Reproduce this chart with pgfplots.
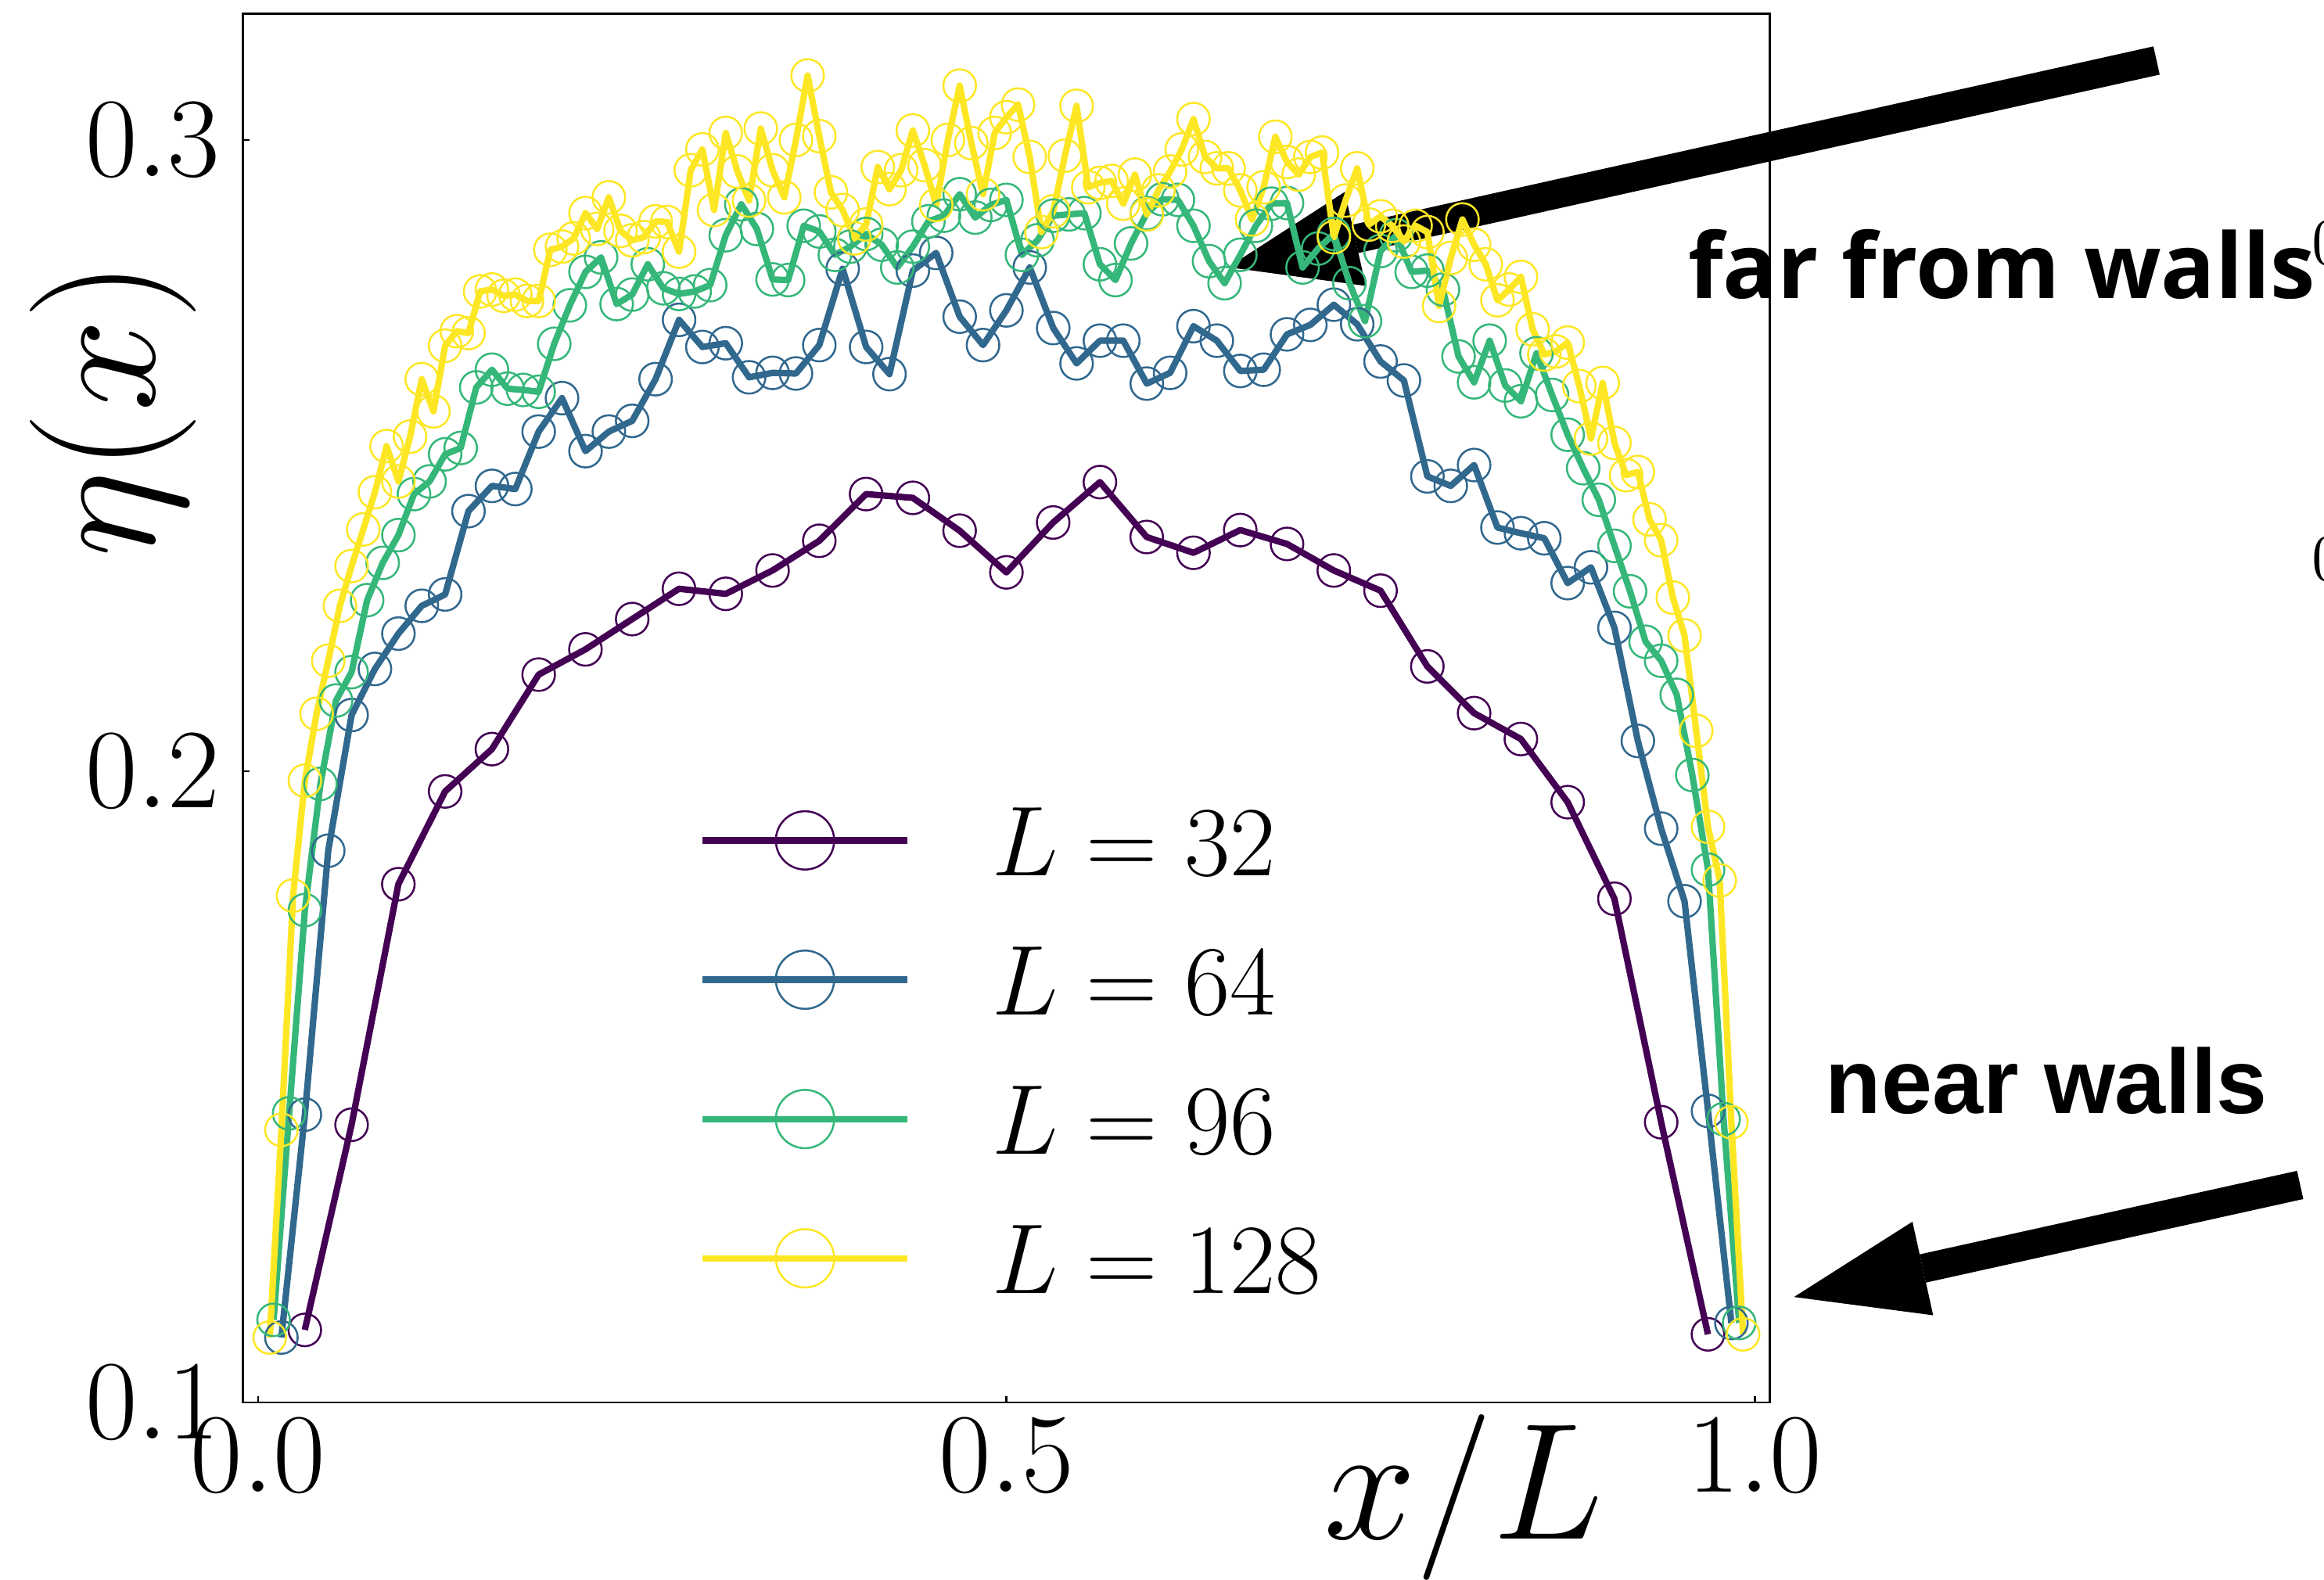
\RequirePackage{fix-cm}
\documentclass[border=0pt]{standalone}
\usepackage{fontspec}
\usepackage{pgfplots}
\usepackage{pgfplotstable}
\pgfplotsset{compat=1.18}
\usetikzlibrary{arrows.meta}
\newfontfamily\farfont{Open Sans}
\newfontfamily\nearfont{Liberation Sans}
\definecolor{cA}{HTML}{440154}
\definecolor{cB}{HTML}{31688E}
\definecolor{cC}{HTML}{35B779}
\definecolor{cD}{HTML}{FDE725}

\pgfplotstableread{
x y
0.03125 0.1115
0.0625 0.1440
0.09375 0.1821
0.125 0.1968
0.15625 0.2035
0.1875 0.2153
0.21875 0.2193
0.25 0.2241
0.28125 0.2289
0.3125 0.2281
0.34375 0.2318
0.375 0.2365
0.40625 0.2439
0.4375 0.2433
0.46875 0.2381
0.5 0.2315
0.53125 0.2394
0.5625 0.2458
0.59375 0.2371
0.625 0.2346
0.65625 0.2382
0.6875 0.2360
0.71875 0.2318
0.75 0.2286
0.78125 0.2166
0.8125 0.2092
0.84375 0.2051
0.875 0.1951
0.90625 0.1798
0.9375 0.1444
0.96875 0.1108
}\tabA

\pgfplotstableread{
x y
0.0156 0.1103
0.0313 0.1456
0.0469 0.1874
0.0625 0.2089
0.0781 0.2162
0.0938 0.2218
0.1094 0.2262
0.125 0.2280
0.1406 0.2412
0.1563 0.2452
0.1719 0.2447
0.1875 0.2538
0.2031 0.2591
0.2188 0.2507
0.2344 0.2538
0.25 0.2555
0.2656 0.2621
0.2813 0.2715
0.2969 0.2672
0.3125 0.2678
0.3281 0.2624
0.3438 0.2631
0.3594 0.2630
0.375 0.2675
0.3906 0.2796
0.4063 0.2672
0.4219 0.2629
0.4375 0.2793
0.4531 0.2821
0.4688 0.2720
0.4844 0.2675
0.5 0.2730
0.5156 0.2798
0.5313 0.2702
0.5469 0.2646
0.5625 0.2682
0.5781 0.2682
0.5938 0.2614
0.6094 0.2631
0.625 0.2705
0.6406 0.2682
0.6563 0.2634
0.6719 0.2636
0.6875 0.2692
0.7031 0.2707
0.7188 0.2739
0.7344 0.2708
0.75 0.2649
0.7656 0.2619
0.7813 0.2467
0.7969 0.2452
0.8125 0.2485
0.8281 0.2386
0.8438 0.2377
0.8594 0.2369
0.875 0.2298
0.8906 0.2323
0.9063 0.2227
0.9219 0.2048
0.9375 0.1909
0.9531 0.1794
0.9688 0.1462
0.9844 0.1126
}\tabB

\pgfplotstableread{
x y
0.0104 0.1131
0.0208 0.1458
0.0313 0.1780
0.0417 0.1980
0.0521 0.2112
0.0625 0.2157
0.0729 0.2271
0.0833 0.2330
0.0938 0.2374
0.1042 0.2439
0.1146 0.2459
0.125 0.2502
0.1354 0.2512
0.1458 0.2608
0.1563 0.2636
0.1667 0.2606
0.1771 0.2604
0.1875 0.2601
0.1979 0.2677
0.2083 0.2738
0.2188 0.2791
0.2292 0.2814
0.2396 0.2740
0.25 0.2755
0.2604 0.2803
0.2708 0.2765
0.2813 0.2756
0.2917 0.2760
0.3021 0.2770
0.3125 0.2849
0.3229 0.2898
0.3333 0.2859
0.3438 0.2779
0.3542 0.2778
0.3646 0.2864
0.375 0.2855
0.3854 0.2818
0.3958 0.2831
0.4063 0.2851
0.4167 0.2834
0.4271 0.2798
0.4375 0.2831
0.4479 0.2871
0.4583 0.2880
0.4688 0.2914
0.4792 0.2877
0.4896 0.2897
0.5 0.2905
0.5104 0.2818
0.5208 0.2841
0.5313 0.2880
0.5417 0.2882
0.5521 0.2884
0.5625 0.2803
0.5729 0.2778
0.5833 0.2836
0.5938 0.2884
0.6042 0.2906
0.6146 0.2905
0.625 0.2864
0.6354 0.2808
0.6458 0.2773
0.6563 0.2818
0.6667 0.2864
0.6771 0.2899
0.6875 0.2900
0.6979 0.2798
0.7083 0.2828
0.7188 0.2851
0.7292 0.2773
0.7396 0.2713
0.75 0.2824
0.7604 0.2849
0.7708 0.2791
0.7813 0.2793
0.7917 0.2763
0.8021 0.2657
0.8125 0.2616
0.8229 0.2682
0.8333 0.2611
0.8438 0.2586
0.8542 0.2662
0.8646 0.2596
0.875 0.2533
0.8854 0.2480
0.8958 0.2430
0.9063 0.2357
0.9167 0.2285
0.9271 0.2205
0.9375 0.2175
0.9479 0.2121
0.9583 0.1994
0.9688 0.1844
0.9792 0.1449
0.9896 0.1126
}\tabC

\pgfplotstableread{
x y
0.0078 0.1103
0.0156 0.1432
0.0234 0.1803
0.0313 0.1985
0.0391 0.2091
0.0469 0.2175
0.0547 0.2262
0.0625 0.2325
0.0703 0.2383
0.0781 0.2442
0.0859 0.2515
0.0938 0.2459
0.1016 0.2530
0.1094 0.2621
0.1172 0.2570
0.125 0.2674
0.1328 0.2697
0.1406 0.2694
0.1484 0.2760
0.1563 0.2763
0.1641 0.2753
0.1719 0.2755
0.1797 0.2745
0.1875 0.2745
0.1953 0.2826
0.2031 0.2831
0.2109 0.2844
0.2188 0.2884
0.2266 0.2859
0.2344 0.2909
0.2422 0.2856
0.25 0.2841
0.2578 0.2846
0.2656 0.2871
0.2734 0.2870
0.2813 0.2823
0.2891 0.2952
0.2969 0.2985
0.3047 0.2889
0.3125 0.3011
0.3203 0.2950
0.3281 0.2904
0.3359 0.3018
0.3438 0.2952
0.3516 0.2909
0.3594 0.3000
0.3672 0.3102
0.375 0.3006
0.3828 0.2917
0.3906 0.2889
0.3984 0.2844
0.4063 0.2866
0.4141 0.2957
0.4219 0.2922
0.4297 0.2952
0.4375 0.3015
0.4453 0.2960
0.4531 0.2897
0.4609 0.3000
0.4688 0.3086
0.4766 0.2995
0.4844 0.2914
0.4922 0.3011
0.5 0.3036
0.5078 0.3056
0.5156 0.2973
0.5234 0.2854
0.5313 0.2887
0.5391 0.2975
0.5469 0.3054
0.5547 0.2925
0.5625 0.2932
0.5703 0.2935
0.5781 0.2899
0.5859 0.2945
0.5938 0.2882
0.6016 0.2920
0.6094 0.2950
0.6172 0.2985
0.625 0.3033
0.6328 0.2973
0.6406 0.2955
0.6484 0.2955
0.6563 0.2920
0.6641 0.2874
0.6719 0.2925
0.6797 0.3005
0.6875 0.2965
0.6953 0.2945
0.7031 0.2973
0.7109 0.2980
0.7188 0.2846
0.7266 0.2904
0.7344 0.2955
0.7422 0.2866
0.75 0.2879
0.7578 0.2864
0.7656 0.2839
0.7734 0.2864
0.7813 0.2854
0.7891 0.2737
0.7969 0.2813
0.8047 0.2874
0.8125 0.2834
0.8203 0.2803
0.8281 0.2746
0.8359 0.2763
0.8438 0.2783
0.8516 0.2700
0.8594 0.2660
0.8672 0.2665
0.875 0.2679
0.8828 0.2610
0.8906 0.2527
0.8984 0.2615
0.9063 0.2520
0.9141 0.2469
0.9219 0.2474
0.9297 0.2399
0.9375 0.2366
0.9453 0.2275
0.9531 0.2215
0.9609 0.2064
0.9688 0.1912
0.9766 0.1827
0.9844 0.1444
0.9922 0.1108
}\tabD

\begin{document}
\begin{tikzpicture}
% annotation arrows (drawn behind the data)
\draw[line width=5.85pt, -{Triangle[length=26.4pt, width=19.5pt, line width=0pt]}]
  (436.5pt,-12.24pt) -- (248.55pt,-54.09pt);
\draw[line width=5.85pt, -{Triangle[length=26.7pt, width=19.4pt, line width=0pt]}]
  (465.57pt,-239.85pt) -- (363.12pt,-262.53pt);
\node[anchor=base west, inner sep=0pt] at (341.5pt,-60.42pt)
  {\resizebox{127pt}{!}{\farfont\bfseries far from walls}};
\node[anchor=base west, inner sep=0pt] at (369.3pt,-225.33pt)
  {\resizebox{89.5pt}{!}{\nearfont\bfseries near walls}};
\node[anchor=west, inner sep=0pt, font=\fontsize{13.5}{16}\selectfont] at (467.7pt,-49.2pt) {0};
\node[anchor=west, inner sep=0pt, font=\fontsize{13.5}{16}\selectfont] at (467.7pt,-113.25pt) {0};

\begin{axis}[
  at={(49.2pt,-283.89pt)}, anchor=south west,
  scale only axis, width=309pt, height=281.13pt,
  xmin=-0.01, xmax=1.01, ymin=0.1, ymax=0.32,
  xtick={0,0.5,1}, xticklabels={$0.0$,$0.5$,$1.0$},
  ytick={0.1,0.2,0.3}, yticklabels={$0.1$,$0.2$,$0.3$},
  xtick pos=bottom, ytick pos=left, tick align=inside,
  major tick length=1.3pt, minor tick num=0,
  every tick/.style={black, line width=0.4pt},
  axis line style={line width=0.4pt},
  xticklabel style={font=\fontsize{22.9}{27}\selectfont, inner sep=0pt, anchor=north, yshift=-3.2pt},
  yticklabel style={font=\fontsize{22.9}{27}\selectfont, inner sep=0pt, anchor=east, xshift=-4.5pt},
  xlabel={$x/L$}, ylabel={$\eta(x)$},
  xlabel style={font=\fontsize{33.6}{40}\selectfont, at={(axis description cs:0.7995,-0.0685)}, anchor=center, inner sep=0pt},
  ylabel style={font=\fontsize{33.6}{40}\selectfont, at={(axis description cs:-0.0854,0.7153)}, anchor=center, inner sep=0pt},
  legend cell align=left,
  legend style={draw=none, fill=none, at={(axis description cs:0.2990,0.4549)}, anchor=north west,
    inner sep=0pt, outer sep=0pt, row sep=0pt, column sep=16.5pt,
    font=\fontsize{20.1}{24}\selectfont,
    cells={anchor=west},
    nodes={inner sep=0pt, text height=21.25pt, text depth=6.95pt}},
  legend image code/.code={
    \draw[#1, mark=none, line cap=butt] (0pt,0pt) -- (41.4pt,0pt);
    \draw[#1, mark=none, line width=0.4pt] (20.7pt,0pt) circle[radius=5.9pt];
  },
]
\addplot[cA, line width=1.3pt, line join=round, mark=o, mark size=3.3pt, mark options={line width=0.4pt, solid}] table {\tabA};
\addlegendentry{$L = 32$}
\addplot[cB, line width=1.3pt, line join=round, mark=o, mark size=3.3pt, mark options={line width=0.4pt, solid}] table {\tabB};
\addlegendentry{$L = 64$}
\addplot[cC, line width=1.3pt, line join=round, mark=o, mark size=3.3pt, mark options={line width=0.4pt, solid}] table {\tabC};
\addlegendentry{$L = 96$}
\addplot[cD, line width=1.3pt, line join=round, mark=o, mark size=3.3pt, mark options={line width=0.4pt, solid}] table {\tabD};
\addlegendentry{$L = 128$}
\end{axis}
\pgfresetboundingbox
\path[use as bounding box] (0pt,0pt) rectangle (470.4pt,-319.8pt);
\end{tikzpicture}
\end{document}
